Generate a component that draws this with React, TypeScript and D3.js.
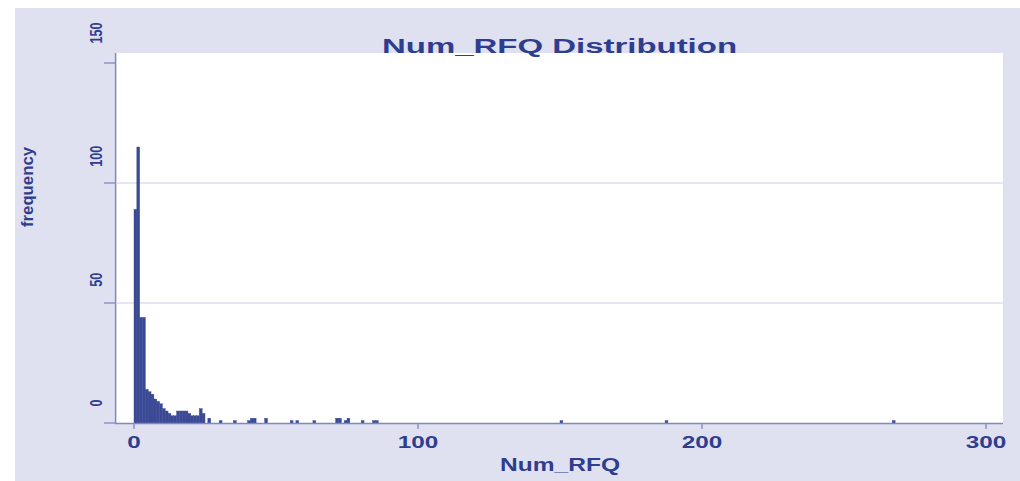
import * as d3 from "d3";

// Num_RFQ value (bin start, width 1) and its frequency
const rfqValues = [
  0, 1, 2, 3, 4, 5, 6, 7, 8, 9, 10, 11, 12, 13, 14, 15, 16, 17, 18, 19, 20, 21, 22, 23, 24,
  26, 30, 35, 40, 41, 42, 46, 55, 57, 63, 71, 72, 74, 75, 80, 84, 85, 150, 187, 267,
];
const frequencies = [
  89, 115, 44, 44, 14, 13, 12, 10, 9, 8, 6, 5, 4, 3, 3, 5, 5, 5, 5, 4, 3, 3, 3, 6, 4,
  2, 1, 1, 1, 2, 2, 2, 1, 1, 1, 2, 2, 1, 2, 1, 1, 1, 1, 1, 1,
];

const xTicks = [0, 100, 200, 300];
const yTicks = [0, 50, 100, 150];
const gridTicks = [50, 100];

const FONT = "'Liberation Sans', Arial, sans-serif";
const TEXT = "#2f3d8f";
const AXIS = "#8088c2";
const BAR = "#3a4994";
const BG = "#e0e1f0";

export default function App() {
  const width = 1020;
  const height = 481;
  const plot = { left: 117, right: 1003, top: 53, bottom: 423 };

  const x = d3.scaleLinear().domain([0, 300]).range([134, 986]);
  const y = d3.scaleLinear().domain([0, 150]).range([423, 63]);
  // tick labels in the picture drift slightly from their ticks
  const yLabel = d3.scaleLinear().domain([0, 150]).range([403, 33]);

  const bars = rfqValues.map((v, i) => ({ v, n: frequencies[i] }));

  return (
    <svg
      width={width}
      height={height}
      style={{ position: "absolute", left: 0, top: 0, display: "block" }}
    >
      <rect x={0} y={0} width={width} height={height} fill="#ffffff" />
      <rect x={15} y={8} width={width - 15} height={height - 8} fill={BG} />
      <rect
        x={plot.left}
        y={plot.top}
        width={plot.right - plot.left}
        height={plot.bottom - plot.top}
        fill="#ffffff"
      />

      {gridTicks.map((t) => (
        <line
          key={t}
          x1={plot.left}
          x2={plot.right}
          y1={y(t)}
          y2={y(t)}
          stroke="#dcdeef"
          strokeWidth={1.5}
        />
      ))}

      {bars.map((d) => (
        <rect
          key={d.v}
          x={x(d.v)}
          y={y(d.n)}
          width={x(d.v + 1) - x(d.v)}
          height={y(0) - y(d.n)}
          fill={BAR}
          stroke={BAR}
          strokeWidth={0.4}
        />
      ))}

      {/* y axis */}
      <line x1={115.5} x2={115.5} y1={plot.top} y2={plot.bottom} stroke={AXIS} strokeWidth={1.3} />
      {yTicks.map((t) => (
        <g key={t}>
          <line x1={104} x2={115.5} y1={y(t)} y2={y(t)} stroke={AXIS} strokeWidth={1.3} />
          <text
            transform={`translate(102,${yLabel(t)}) rotate(-90)`}
            textAnchor="middle"
            fontFamily={FONT}
            fontSize={17}
            fontWeight="bold"
            fill={TEXT}
            textLength={String(t).length * 7}
            lengthAdjust="spacingAndGlyphs"
          >
            {t}
          </text>
        </g>
      ))}
      <text
        transform="translate(33,187) rotate(-90)"
        textAnchor="middle"
        fontFamily={FONT}
        fontSize={17}
        fontWeight="bold"
        fill={TEXT}
        textLength={80}
        lengthAdjust="spacingAndGlyphs"
      >
        frequency
      </text>

      {/* x axis */}
      <line x1={115} x2={plot.right} y1={423.5} y2={423.5} stroke={AXIS} strokeWidth={1.3} />
      {xTicks.map((t) => (
        <g key={t}>
          <line x1={x(t)} x2={x(t)} y1={423.5} y2={429} stroke={AXIS} strokeWidth={1.3} />
          <text
            x={x(t)}
            y={448}
            textAnchor="middle"
            fontFamily={FONT}
            fontSize={16}
            fontWeight="bold"
            fill={TEXT}
            textLength={String(t).length * 13.5}
            lengthAdjust="spacingAndGlyphs"
          >
            {t}
          </text>
        </g>
      ))}
      <text
        x={560}
        y={471}
        textAnchor="middle"
        fontFamily={FONT}
        fontSize={18}
        fontWeight="bold"
        fill={TEXT}
        textLength={120}
        lengthAdjust="spacingAndGlyphs"
      >
        Num_RFQ
      </text>

      <text
        x={559.5}
        y={53}
        textAnchor="middle"
        fontFamily={FONT}
        fontSize={20}
        fontWeight="bold"
        fill={TEXT}
        textLength={355}
        lengthAdjust="spacingAndGlyphs"
      >
        Num_RFQ Distribution
      </text>
    </svg>
  );
}
